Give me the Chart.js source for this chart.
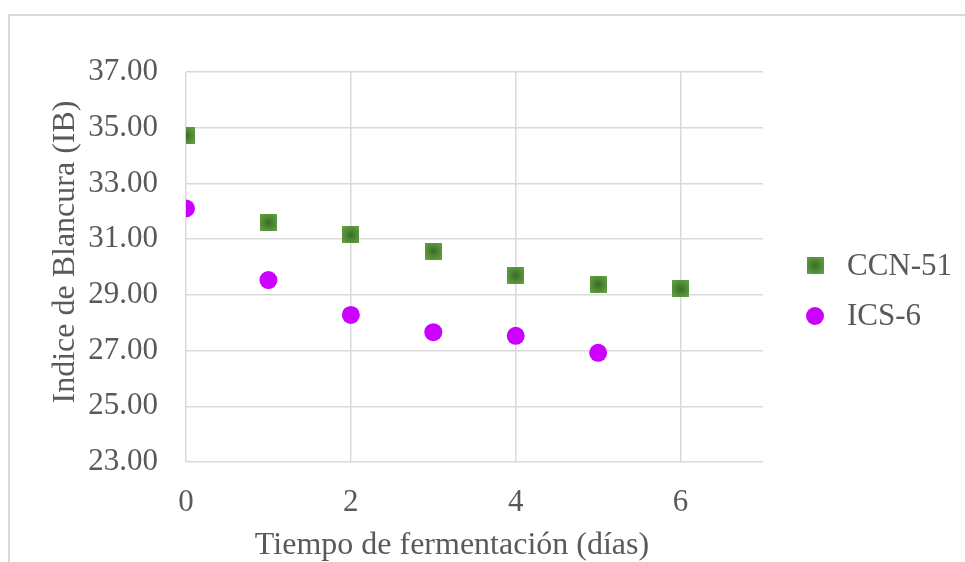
<!DOCTYPE html>
<html>
<head>
<meta charset="utf-8">
<script src="https://cdn.jsdelivr.net/npm/chart.js@4.4.0/dist/chart.umd.min.js"></script>
<style>
    html, body { margin: 0; padding: 0; background: #fff; }
    #wrap { position: relative; width: 965px; height: 562px; overflow: hidden; }
    #frame { position: absolute; left: 8px; top: 14px; width: 1000px; height: 600px; border: 2px solid #d9d9d9; box-sizing: border-box; }
    #chart { position: absolute; left: 0; top: 0; }
</style>
</head>
<body>
<div id="wrap">
    <div id="frame"></div>
    <canvas id="chart" width="965" height="562"></canvas>
</div>
<script>
// Data
const days = [0, 1, 2, 3, 4, 5, 6];
const ccn51 = [34.72, 31.60, 31.15, 30.57, 29.70, 29.37, 29.22];
const ics6 = [32.10, 29.53, 28.28, 27.66, 27.53, 26.92];
const seriesNames = ['CCN-51', 'ICS-6'];
const xTicks = [0, 2, 4, 6];
const yTicks = [23, 25, 27, 29, 31, 33, 35, 37];
const xTitle = 'Tiempo de fermentación (días)';
const yTitle = 'Indice de Blancura (IB)';

const textColor = '#595959';
const gridColor = '#d9d9d9';
const serif = '"Liberation Serif", "Times New Roman", serif';

// Square marker with the slightly darker centre seen in the reference
function makeSquare(size) {
    const c = document.createElement('canvas');
    c.width = size;
    c.height = size;
    const g = c.getContext('2d');
    const grad = g.createRadialGradient(size / 2, size / 2, 0, size / 2, size / 2, size * 0.65);
    grad.addColorStop(0, '#3b6a28');
    grad.addColorStop(0.5, '#4f8935');
    grad.addColorStop(1, '#64a242');
    g.fillStyle = grad;
    g.fillRect(0, 0, size, size);
    return c;
}
const squareMarker = makeSquare(17);

function toPoints(values) {
    return values.map((v, i) => ({ x: days[i], y: v }));
}

// Axis titles and legend, placed where the reference has them
const overlay = {
    id: 'overlay',
    afterDraw(chart) {
        const ctx = chart.ctx;
        ctx.save();
        ctx.fillStyle = textColor;
        ctx.font = '32px ' + serif;
        ctx.textAlign = 'center';
        ctx.textBaseline = 'alphabetic';
        ctx.fillText(xTitle, 452, 554);

        ctx.save();
        ctx.translate(74, 252);
        ctx.rotate(-Math.PI / 2);
        ctx.fillText(yTitle, 0, 0);
        ctx.restore();

        ctx.font = '31px ' + serif;
        ctx.textAlign = 'left';
        ctx.textBaseline = 'middle';
        chart.data.datasets.forEach((ds, i) => {
            const y = 265.5 + i * 50.5;
            ctx.fillStyle = ds.backgroundColor;
            Chart.helpers.drawPoint(ctx, {
                pointStyle: ds.pointStyle,
                radius: ds.pointRadius,
                rotation: 0,
                borderWidth: 0
            }, 815, y);
            ctx.fillStyle = textColor;
            ctx.fillText(ds.label, 847, y + 1);
        });
        ctx.restore();
    }
};

const ctx = document.getElementById('chart').getContext('2d');
new Chart(ctx, {
    type: 'scatter',
    data: {
        datasets: [
            {
                label: seriesNames[0],
                data: toPoints(ccn51),
                pointStyle: squareMarker,
                pointRadius: 8.5,
                backgroundColor: '#4f8a33',
                borderWidth: 0
            },
            {
                label: seriesNames[1],
                data: toPoints(ics6),
                pointStyle: 'circle',
                pointRadius: 9,
                backgroundColor: '#cc00ff',
                borderColor: '#cc00ff',
                borderWidth: 0
            }
        ]
    },
    options: {
        responsive: false,
        animation: false,
        layout: {
            padding: { left: 0, top: 72, right: 202, bottom: 0 }
        },
        plugins: {
            legend: { display: false },
            tooltip: { enabled: false }
        },
        scales: {
            x: {
                type: 'linear',
                min: 0,
                max: 7,
                afterBuildTicks: s => { s.ticks = xTicks.map(v => ({ value: v })); },
                afterFit: s => { s.height = 100; },
                grid: { color: gridColor, lineWidth: 1.5, drawTicks: false },
                border: { display: false },
                ticks: {
                    color: textColor,
                    font: { family: serif, size: 31 },
                    padding: 22,
                    maxRotation: 0,
                    autoSkip: false,
                    callback: v => String(v)
                }
            },
            y: {
                type: 'linear',
                min: 23,
                max: 37,
                afterBuildTicks: s => { s.ticks = yTicks.map(v => ({ value: v })); },
                afterFit: s => { s.width = 186; },
                grid: { color: gridColor, lineWidth: 1.5, drawTicks: false },
                border: { display: false },
                ticks: {
                    color: textColor,
                    font: { family: serif, size: 31 },
                    padding: 28,
                    autoSkip: false,
                    callback: v => v.toFixed(2)
                }
            }
        }
    },
    plugins: [overlay]
});
</script>
</body>
</html>
